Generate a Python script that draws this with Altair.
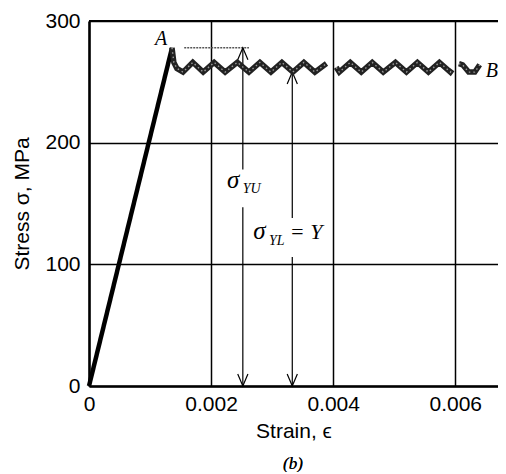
import altair as alt
import pandas as pd

# ---- data ----
elastic_strain = [0.0, 0.00136]
elastic_stress = [0, 278]

plateau_strain = [0.00136, 0.00139, 0.00144, 0.00154, 0.00170, 0.00187, 0.00205, 0.00223, 0.00243,
                  0.00262, 0.00280, 0.00298, 0.00316, 0.00334, 0.00352, 0.00370, 0.00389,
                  0.00405, 0.00410, 0.00428, 0.00446, 0.00464, 0.00482, 0.00502, 0.00520,
                  0.00538, 0.00556, 0.00574, 0.00592, 0.00595,
                  0.00606, 0.00612, 0.00622, 0.00632, 0.00640]
plateau_stress = [278, 266, 261, 258, 266, 258, 266, 258, 266, 258, 266, 258, 266, 258, 266, 258, 265,
                  262, 258, 266, 258, 266, 258, 266, 258, 266, 258, 266, 258, 260,
                  265, 264, 258, 258, 264]
plateau_segment = [1] * 17 + [2] * 13 + [3] * 5

x_ticks = [0, 0.002, 0.004, 0.006]
y_ticks = [0, 100, 200, 300]

# upper yield reference line
uy_line_strain = [0.00156, 0.00262]
uy_line_stress = 278

# arrows (shaft pieces, broken around labels)
arrow_strain = [0.00252, 0.00252, 0.00333, 0.00333]
arrow_top = [278, 147, 258, 106]
arrow_bottom = [178, 0, 138, 0]

head_strain = [0.00252, 0.00252, 0.00333, 0.00333]
head_stress = [278, 0, 258, 0]
head_dir = ["up", "down", "up", "down"]

# labels
sigma_strain = [0.00226, 0.00269]
sigma_stress = [163, 121]
sub_strain = [0.00252, 0.00295]
sub_stress = [159, 116]
sub_text = ["YU", "YL"]
eqY_strain = [0.00329]
eqY_stress = [121]
pt_strain = [0.00108, 0.00650]
pt_stress = [280, 254]
pt_text = ["A", "B"]

X_DOMAIN = [0, 0.0067]
Y_DOMAIN = [0, 300]

el = pd.DataFrame({"strain": elastic_strain, "stress": elastic_stress})
pl = pd.DataFrame({"strain": plateau_strain, "stress": plateau_stress, "seg": plateau_segment})
uy = pd.DataFrame({"strain": uy_line_strain, "stress": [uy_line_stress] * 2})
ar = pd.DataFrame({"strain": arrow_strain, "stress": arrow_top, "bottom": arrow_bottom})
hd = pd.DataFrame({"strain": head_strain, "stress": head_stress, "dir": head_dir})
sg = pd.DataFrame({"strain": sigma_strain, "stress": sigma_stress, "t": ["σ", "σ"]})
sb = pd.DataFrame({"strain": sub_strain, "stress": sub_stress, "t": sub_text})
eq = pd.DataFrame({"strain": eqY_strain, "stress": eqY_stress, "t": ["= Y"]})
pt = pd.DataFrame({"strain": pt_strain, "stress": pt_stress, "t": pt_text})

xs = alt.Scale(domain=X_DOMAIN, nice=False, zero=False)
ys = alt.Scale(domain=Y_DOMAIN, nice=False)

x_axis = alt.Axis(values=x_ticks, title="Strain, ϵ",
                  labelExpr="datum.value == 0 ? '0' : format(datum.value, '.3f')",
                  labelPadding=7, titlePadding=6, labelFlush=False)
y_axis = alt.Axis(values=y_ticks, title="Stress σ, MPa", labelPadding=9, titlePadding=12,
                  labelFlush=False)


def X():
    return alt.X("strain:Q", scale=xs, axis=x_axis)


def Y():
    return alt.Y("stress:Q", scale=ys, axis=y_axis)


elastic = alt.Chart(el).mark_line(color="black", strokeWidth=4.5).encode(x=X(), y=Y())

plateau_dark = alt.Chart(pl).mark_line(color="#222", strokeWidth=5.5, strokeJoin="miter").encode(
    x=X(), y=Y(), detail="seg:N")
plateau_light = alt.Chart(pl).mark_line(color="#9a9a9a", strokeWidth=1.4, strokeDash=[1.5, 3]).encode(
    x=X(), y=Y(), detail="seg:N")

uy_rule = alt.Chart(uy).mark_line(color="#555", strokeWidth=1.4, strokeDash=[2, 1]).encode(
    x=X(), y=Y())

shafts = alt.Chart(ar).mark_rule(color="black", strokeWidth=1.2).encode(
    x=X(), y=Y(), y2="bottom:Q")

heads = alt.Chart(hd).mark_point(filled=False, color="black", strokeWidth=1.2, size=36, opacity=1).encode(
    x=X(), y=Y(),
    shape=alt.Shape("dir:N", legend=None,
                    scale=alt.Scale(domain=["up", "down"],
                                    range=["M-1.7,4L0,0L1.7,4", "M-1.7,-4L0,0L1.7,-4"])))

top_border = alt.Chart(el).mark_rule(color="black", strokeWidth=2).encode(
    x=alt.value(0), x2=alt.value(409), y=alt.value(0))

serif = "Liberation Serif"
sig = alt.Chart(sg).mark_text(font=serif, fontStyle="italic", fontSize=25, align="left",
                              baseline="alphabetic", color="black").encode(x=X(), y=Y(), text="t:N")
sub = alt.Chart(sb).mark_text(font=serif, fontStyle="italic", fontSize=14, align="left",
                              baseline="alphabetic", color="black").encode(x=X(), y=Y(), text="t:N")
eqy = alt.Chart(eq).mark_text(font=serif, fontStyle="italic", fontSize=22, align="left",
                              baseline="alphabetic", color="black").encode(x=X(), y=Y(), text="t:N")
pts = alt.Chart(pt).mark_text(font=serif, fontStyle="italic", fontSize=20, align="left",
                              baseline="alphabetic", color="black").encode(x=X(), y=Y(), text="t:N")
cap = alt.Chart(el).mark_text(font=serif, fontStyle="italic", fontSize=17, align="center",
                              baseline="middle", color="black", text="(b)").encode(
    x=alt.value(204), y=alt.value(443))

chart = alt.layer(elastic, uy_rule, shafts, heads, plateau_dark, plateau_light, top_border,
                  sig, sub, eqy, pts, cap).properties(
    width=409, height=365,
    autosize=alt.AutoSizeParams(type="none"),
    padding={"left": 81, "top": 13, "right": 0, "bottom": 86},
).configure_view(stroke=None).configure_axis(
    grid=True, gridColor="black", gridWidth=1.5, gridOpacity=1,
    domainColor="black", domainWidth=2.5, ticks=False,
    labelFont="Liberation Sans", labelFontSize=21, labelColor="black",
    titleFont="Liberation Sans", titleFontSize=21, titleFontWeight="normal", titleColor="black",
)

chart.save("out.html", embed_options={"renderer": "svg", "actions": False})
